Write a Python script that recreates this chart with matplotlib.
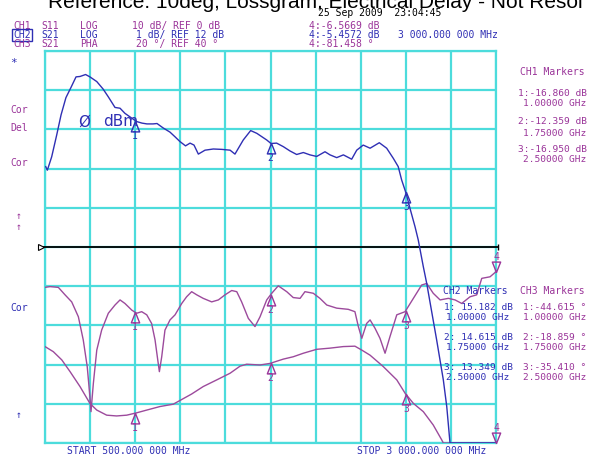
import numpy as np
import matplotlib.pyplot as plt
from matplotlib.path import Path

# sweep 500 MHz .. 3 GHz, 10 x 10 graticule (y in divisions from bottom)

# CH1 S11 (top half)
ch1_f = [0.504, 0.513, 0.537, 0.565, 0.589, 0.616, 0.644, 0.672, 0.694, 0.725,
         0.749, 0.787, 0.822, 0.851, 0.888, 0.916, 0.943, 0.977, 1.008, 1.038,
         1.065, 1.099, 1.121, 1.154, 1.193, 1.221, 1.248, 1.279, 1.304, 1.326,
         1.350, 1.387, 1.433, 1.481, 1.526, 1.553, 1.599, 1.640, 1.674, 1.729,
         1.753, 1.784, 1.821, 1.858, 1.895, 1.932, 1.969, 2.006, 2.052, 2.080,
         2.117, 2.154, 2.200, 2.228, 2.264, 2.302, 2.353, 2.394, 2.431, 2.458,
         2.477, 2.503, 2.523, 2.551, 2.569, 2.597, 2.616, 2.671, 2.708, 2.727,
         2.745, 3.0]
ch1_d = [7.05, 6.96, 7.30, 7.86, 8.37, 8.81, 9.07, 9.34, 9.35, 9.40,
         9.34, 9.22, 9.03, 8.83, 8.56, 8.54, 8.41, 8.30, 8.20, 8.16,
         8.14, 8.14, 8.15, 8.04, 7.93, 7.81, 7.69, 7.58, 7.65, 7.60,
         7.37, 7.47, 7.50, 7.49, 7.47, 7.37, 7.73, 7.97, 7.90, 7.73,
         7.64, 7.65, 7.56, 7.45, 7.36, 7.41, 7.35, 7.31, 7.43, 7.35,
         7.28, 7.35, 7.24, 7.47, 7.60, 7.52, 7.66, 7.52, 7.26, 7.05,
         6.71, 6.35, 5.99, 5.52, 5.18, 4.50, 4.07, 2.63, 1.61, 0.93,
         0.0, 0.0]

# CH2 / CH3 S21 (bottom half)
s21a_f = [0.500, 0.528, 0.574, 0.611, 0.648, 0.685, 0.712, 0.734, 0.749, 0.755,
          0.768, 0.787, 0.814, 0.851, 0.888, 0.916, 0.943, 0.981, 1.008, 1.036,
          1.064, 1.091, 1.110, 1.125, 1.134, 1.147, 1.165, 1.193, 1.221, 1.258,
          1.285, 1.313, 1.341, 1.377, 1.424, 1.461, 1.498, 1.535, 1.563, 1.590,
          1.627, 1.664, 1.692, 1.729, 1.757, 1.793, 1.840, 1.876, 1.914, 1.941,
          1.987, 2.024, 2.062, 2.117, 2.181, 2.218, 2.237, 2.256, 2.283, 2.302,
          2.329, 2.357, 2.385, 2.412, 2.450, 2.496, 2.542, 2.588, 2.616, 2.652,
          2.690, 2.736, 2.773, 2.810, 2.856, 2.893, 2.921, 2.967, 3.0]
s21a_d = [3.97, 3.99, 3.97, 3.78, 3.60, 3.22, 2.63, 1.95, 1.18, 0.80,
          1.52, 2.37, 2.88, 3.31, 3.52, 3.65, 3.56, 3.39, 3.31, 3.35,
          3.27, 3.05, 2.63, 2.12, 1.82, 2.20, 2.88, 3.14, 3.27, 3.56,
          3.73, 3.86, 3.78, 3.69, 3.60, 3.65, 3.78, 3.89, 3.86, 3.60,
          3.18, 2.97, 3.22, 3.65, 3.82, 4.01, 3.86, 3.71, 3.69, 3.86,
          3.82, 3.69, 3.52, 3.44, 3.41, 3.35, 2.97, 2.67, 3.05, 3.14,
          2.93, 2.67, 2.29, 2.71, 3.27, 3.35, 3.69, 4.03, 4.07, 3.82,
          3.65, 3.69, 3.65, 3.56, 3.73, 3.78, 4.20, 4.24, 4.37]

s21b_f = [0.500, 0.546, 0.593, 0.639, 0.694, 0.749, 0.787, 0.842, 0.897, 0.953,
          1.008, 1.064, 1.137, 1.211, 1.258, 1.313, 1.377, 1.452, 1.526, 1.581,
          1.618, 1.692, 1.747, 1.821, 1.876, 1.932, 2.006, 2.080, 2.154, 2.218,
          2.256, 2.302, 2.375, 2.450, 2.496, 2.542, 2.597, 2.652, 2.699, 2.708,
          3.0]
s21b_d = [2.46, 2.33, 2.12, 1.82, 1.44, 1.01, 0.84, 0.71, 0.69, 0.71,
          0.77, 0.84, 0.93, 0.99, 1.11, 1.25, 1.44, 1.61, 1.78, 1.96,
          2.01, 1.99, 2.03, 2.14, 2.20, 2.29, 2.39, 2.42, 2.46, 2.47,
          2.37, 2.24, 1.95, 1.61, 1.27, 1.01, 0.80, 0.46, 0.08, 0.0,
          0.0]

mk_f = [1.0, 1.75, 2.5]

ch1_mk = ["1:-16.860 dB", "2:-12.359 dB", "3:-16.950 dB"]
ch2_mk = ["1: 15.182 dB", "2: 14.615 dB", "3: 13.349 dB"]
ch3_mk = ["1:-44.615 °", "2:-18.859 °", "3:-35.410 °"]
mk_freq = ["1.00000 GHz", "1.75000 GHz", "2.50000 GHz"]

BLUE = '#2f2fb4'
PURPLE = '#9a3499'
TRACE = '#9c4a9c'
CYAN = '#4cdcdc'

W, H = 589, 454
fig = plt.figure(figsize=(W / 100, H / 100), dpi=100)
ax = fig.add_axes([45 / W, 1 - 443 / H, 451 / W, 392 / H])
ax.set_xlim(0.5, 3.0)
ax.set_ylim(0, 10)
ax.set_xticks(np.arange(0.5, 3.01, 0.25))
ax.set_yticks(np.arange(0, 11, 1))
ax.tick_params(length=0, labelbottom=False, labelleft=False)
ax.grid(color=CYAN, lw=1.6)
for s in ax.spines.values():
    s.set_color(CYAN)
    s.set_linewidth(1.6)


def txt(x, y, s, color, size=7, family='DejaVu Sans Mono', **kw):
    return fig.text(x / W, 1 - y / H, s, color=color, fontsize=size,
                    family=family, va='center', ha='left', **kw)


# reference line between the two halves
ax.plot([0.478, 3.011], [5, 5], color='black', lw=1.3, clip_on=False, zorder=3)
ax.plot([0.478], [5], marker='>', ms=4, mfc='white', mec='black', mew=0.8,
        clip_on=False, zorder=4)
ax.plot([3.011], [5], marker='|', ms=5, color='black', mew=1, clip_on=False, zorder=4)

ax.plot(s21b_f, s21b_d, color=TRACE, lw=1.0, zorder=4)
ax.plot(s21a_f, s21a_d, color=TRACE, lw=1.0, zorder=4)
ax.plot(ch1_f, ch1_d, color=BLUE, lw=1.0, zorder=5)

up = Path([(0, 0), (-0.4, -1), (0.4, -1), (0, 0)])
down = Path([(0, 0), (-0.4, 1), (0.4, 1), (0, 0)])

for fx, fy, col in [(ch1_f, ch1_d, BLUE), (s21a_f, s21a_d, PURPLE), (s21b_f, s21b_d, PURPLE)]:
    yy = np.interp(mk_f, fx, fy)
    ax.plot(mk_f, yy, ls='none', marker=up, ms=15, mfc='none', mec=col, mew=1.0,
            zorder=6)
    for i, (m, v) in enumerate(zip(mk_f, yy)):
        ax.annotate(str(i + 1), (m, v), xytext=(0, -15), textcoords='offset pixels',
                    ha='center', va='center', fontsize=7, family='DejaVu Sans Mono',
                    color=col, zorder=6)

# marker 4 at stop frequency
for fx, fy in [(s21a_f, s21a_d), (s21b_f, s21b_d)]:
    v = np.interp(3.0, fx, fy)
    ax.plot([3.0], [v], marker=down, ms=15, mfc='none', mec=PURPLE, mew=1.0,
            clip_on=False, zorder=6)
    ax.annotate("4", (3.0, v), xytext=(0, 15), textcoords='offset pixels',
                ha='center', va='center', fontsize=7, family='DejaVu Sans Mono',
                color=PURPLE, annotation_clip=False)

# title (partly off the top)
fig.text(48 / W, 1 - 8 / H, "Reference: 10deg, Lossgram, Electrical Delay - Not Resol",
         fontsize=15, family='Liberation Sans', va='baseline', ha='left', color='black')
txt(318, 13.5, "25 Sep 2009  23:04:45", 'black')

# channel header
txt(13, 26, "CH1", PURPLE)
txt(41.5, 26, "S11", PURPLE)
txt(80, 26, "LOG", PURPLE)
txt(132, 26, "10 dB/ REF 0 dB", PURPLE)
txt(309, 26, "4:-6.5669 dB", PURPLE)
txt(13, 35, "CH2", BLUE,
    bbox=dict(boxstyle='square,pad=0.15', fc='none', ec=BLUE, lw=1))
txt(41.5, 35, "S21", BLUE)
txt(80, 35, "LOG", BLUE)
txt(136, 35, "1 dB/ REF 12 dB", BLUE)
txt(309, 35, "4:-5.4572 dB", BLUE)
txt(398, 35, "3 000.000 000 MHz", BLUE)
txt(13, 44, "CH3", PURPLE)
txt(41.5, 44, "S21", PURPLE)
txt(80, 44, "PHA", PURPLE)
txt(136, 44, "20 °/ REF 40 °", PURPLE)
txt(309, 44, "4:-81.458 °", PURPLE)

# left annotations
txt(10, 63, "*", BLUE, size=8)
txt(10, 110, "Cor", PURPLE)
txt(10, 128, "Del", PURPLE)
txt(10, 163, "Cor", PURPLE)
txt(16, 216, "↑", PURPLE)
txt(16, 227, "↑", PURPLE)
txt(10, 308, "Cor", BLUE)
txt(16, 415, "↑", BLUE)

txt(78, 122, "Ø", BLUE, size=11, family='DejaVu Sans')
txt(103, 122, "dBm", BLUE, size=11, family='DejaVu Sans')

# marker tables
txt(520, 72, "CH1 Markers", PURPLE)
for i, y in enumerate([94, 121, 150]):
    txt(518, y, ch1_mk[i], PURPLE, size=6.8)
    txt(523, y + 9 if i != 1 else y + 12, mk_freq[i], PURPLE, size=6.8)

txt(443, 291, "CH2 Markers", BLUE)
txt(520, 291, "CH3 Markers", PURPLE)
for i, y in enumerate([308, 338, 368]):
    txt(444, y, ch2_mk[i], BLUE, size=6.8)
    txt(446, y + 9.5, mk_freq[i], BLUE, size=6.8)
    txt(523, y, ch3_mk[i], PURPLE, size=6.8)
    txt(523, y + 9.5, mk_freq[i], PURPLE, size=6.8)

txt(67, 450.5, "START 500.000 000 MHz", BLUE)
txt(357, 450.5, "STOP 3 000.000 000 MHz", BLUE)

fig.savefig("out.png", dpi=100)
